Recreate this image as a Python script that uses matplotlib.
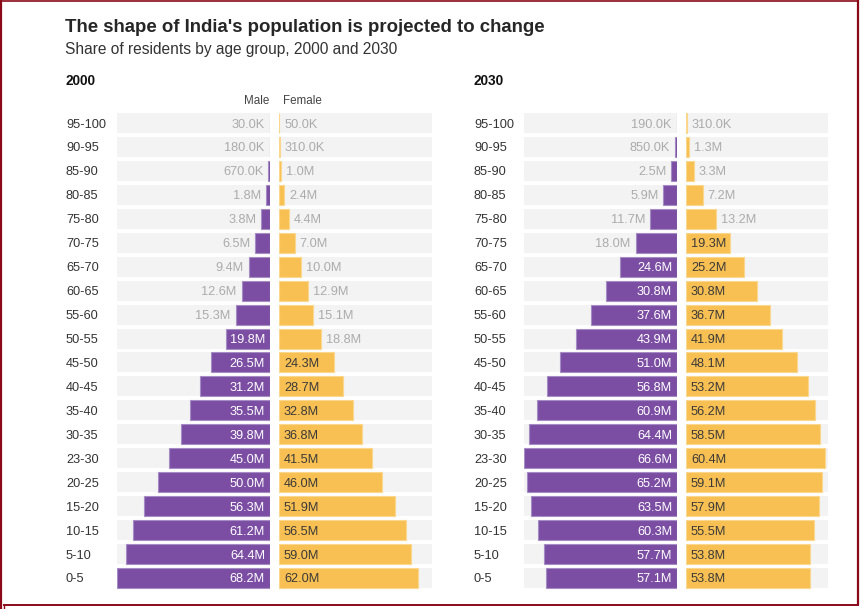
import matplotlib
matplotlib.use("Agg")
import matplotlib.pyplot as plt

plt.rcParams['font.family'] = ['Liberation Sans', 'DejaVu Sans']

# ---------------- data (millions) ----------------
ages = ['95-100', '90-95', '85-90', '80-85', '75-80', '70-75', '65-70', '60-65',
        '55-60', '50-55', '45-50', '40-45', '35-40', '30-35', '23-30', '20-25',
        '15-20', '10-15', '5-10', '0-5']
male_2000 = [0.03, 0.18, 0.67, 1.8, 3.8, 6.5, 9.4, 12.6, 15.3, 19.8, 26.5, 31.2,
             35.5, 39.8, 45.0, 50.0, 56.3, 61.2, 64.4, 68.2]
female_2000 = [0.05, 0.31, 1.0, 2.4, 4.4, 7.0, 10.0, 12.9, 15.1, 18.8, 24.3, 28.7,
               32.8, 36.8, 41.5, 46.0, 51.9, 56.5, 59.0, 62.0]
male_2030 = [0.19, 0.85, 2.5, 5.9, 11.7, 18.0, 24.6, 30.8, 37.6, 43.9, 51.0, 56.8,
             60.9, 64.4, 66.6, 65.2, 63.5, 60.3, 57.7, 57.1]
female_2030 = [0.31, 1.3, 3.3, 7.2, 13.2, 19.3, 25.2, 30.8, 36.7, 41.9, 48.1, 53.2,
               56.2, 58.5, 60.4, 59.1, 57.9, 55.5, 53.8, 53.8]
years = ['2000', '2030']
title = "The shape of India's population is projected to change"
subtitle = "Share of residents by age group, 2000 and 2030"

# ---------------- style ----------------
W, H = 861, 609
PURPLE = '#7b4ea3'
PURPLE_EDGE = '#a68cc4'
YELLOW = '#f8c052'
YELLOW_EDGE = '#fbd78e'
BG = '#f3f3f3'
GRAY_TXT = '#ababab'
DARK_TXT = '#3a3a3a'
BORDER = '#8b0a1a'

fig = plt.figure(figsize=(W / 100, H / 100), dpi=100)
fig.patch.set_facecolor('white')


def px_axes(x0, y0, x1, y1):
    """axes from pixel box (top-left origin)"""
    return fig.add_axes([x0 / W, 1 - y1 / H, (x1 - x0) / W, (y1 - y0) / H])


def ftxt(x, y, s, **kw):
    fig.text(x / W, 1 - y / H, s, **kw)


def fmt(v):
    return f"{v * 1000:.1f}K" if v < 1 else f"{v:.1f}M"


ROW0, ROWN = 123, 578
n = len(ages)
step = (ROWN - ROW0) / (n - 1)
top = ROW0 - step / 2
bot = ROWN + step / 2
BH = 20 / step
PAD = 5.0  # px
AXW = 153

panels = [
    dict(year=years[0], male=male_2000, female=female_2000, lab_x=66,
         mx=(117, 270), fx=(279, 432), fbg=1.0, head=True),
    dict(year=years[1], male=male_2030, female=female_2030, lab_x=474,
         mx=(524, 677), fx=(686, 839), fbg=142 / 153, head=False),
]

fs_val = 9.2
for p in panels:
    vmax = max(max(p['male']), max(p['female']))
    ypos = list(range(n))
    for side in ('male', 'female'):
        vals = p[side]
        x0, x1 = p['mx'] if side == 'male' else p['fx']
        ax = px_axes(x0, top, x1, bot)
        ax.set_xlim(0, vmax)
        if side == 'male':
            ax.invert_xaxis()
        ax.set_ylim(n - 0.5, -0.5)
        ax.axis('off')
        bgw = vmax * (1.0 if side == 'male' else p['fbg'])
        ax.barh(ypos, [bgw] * n, height=BH, color=BG, linewidth=0, zorder=1)
        col = PURPLE if side == 'male' else YELLOW
        ecol = PURPLE_EDGE if side == 'male' else YELLOW_EDGE
        ax.barh(ypos, vals, height=BH, color=col, edgecolor=ecol, linewidth=0.8, zorder=2)
        upx = vmax / AXW  # data units per pixel
        for i, v in enumerate(vals):
            frac = v / vmax
            inside = frac >= 0.283
            if inside:
                xt = PAD * upx
                c = 'white' if side == 'male' else DARK_TXT
            else:
                xt = v + PAD * upx
                c = GRAY_TXT
            ha = 'right' if side == 'male' else 'left'
            ax.text(xt, i, fmt(v), ha=ha, va='center_baseline', fontsize=fs_val,
                    color=c, zorder=3)
    # age labels
    for i, a in enumerate(ages):
        ftxt(p['lab_x'], ROW0 + i * step, a, ha='left', va='center_baseline',
             fontsize=9.2, color='#333333')
    ftxt(p['lab_x'] - 1, 85, p['year'], ha='left', va='baseline', fontsize=9.8,
         fontweight='bold', color='#111111')
    if p['head']:
        ftxt(p['mx'][1] - 1, 104, 'Male', ha='right', va='baseline', fontsize=8.4,
             color='#444444')
        ftxt(p['fx'][0] + 4, 104, 'Female', ha='left', va='baseline', fontsize=8.4,
             color='#444444')

ftxt(65, 31.5, title, ha='left', va='baseline', fontsize=13.45, fontweight='bold',
     color='#262626')
ftxt(65, 54, subtitle, ha='left', va='baseline', fontsize=11.2, color='#333333')

# border lines
bax = fig.add_axes([0, 0, 1, 1], zorder=10)
bax.set_xlim(0, W)
bax.set_ylim(H, 0)
bax.axis('off')
bax.plot([1, 1], [0, H], color=BORDER, lw=1.6, solid_capstyle='butt')
bax.plot([0, 859], [0.5, 0.5], color=BORDER, lw=1.2, solid_capstyle='butt')
bax.plot([858, 858], [0, 605], color=BORDER, lw=1.6, solid_capstyle='butt')
bax.plot([3, 859], [604.5, 604.5], color=BORDER, lw=1.4, solid_capstyle='butt')
bax.plot([3.5, 3.5], [604, H], color=BORDER, lw=1.0, solid_capstyle='butt')

fig.savefig('out.png', dpi=100)
